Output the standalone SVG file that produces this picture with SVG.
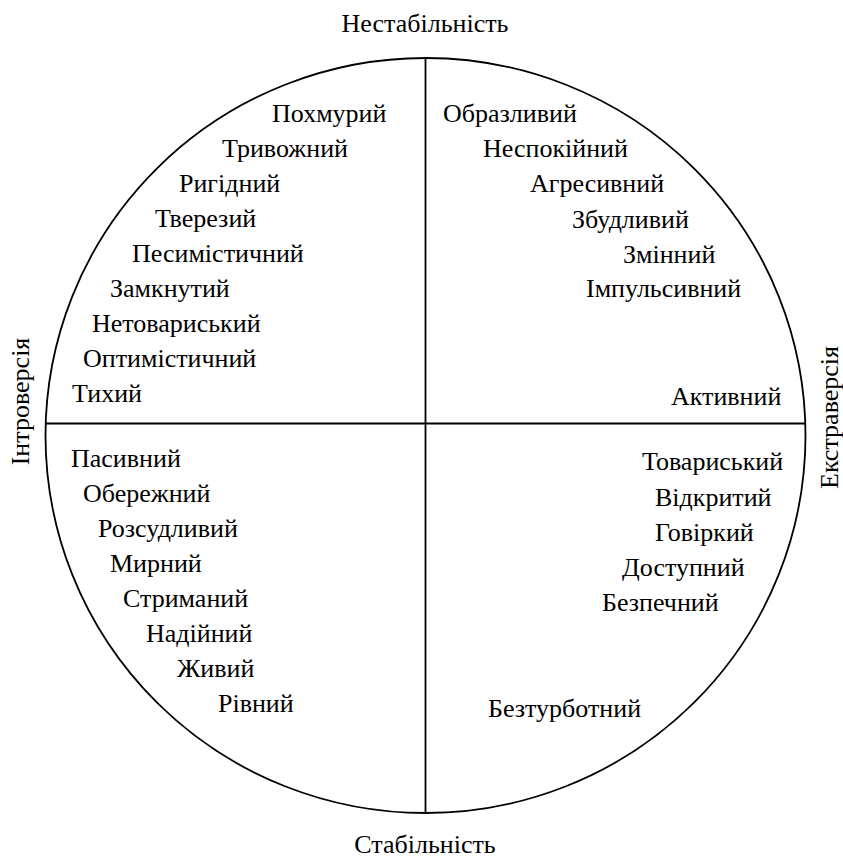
<svg xmlns="http://www.w3.org/2000/svg" width="843" height="858" viewBox="0 0 843 858">
<style>
.t text{font-family:"Liberation Serif","DejaVu Serif",serif;font-size:26px;fill:#000}
.ln{stroke:#000;stroke-width:1.8;fill:none}
</style>
<rect width="843" height="858" fill="#fff"/>
<g id="frame">
<ellipse class="ln" cx="425.5" cy="435.5" rx="380" ry="377.5" stroke-width="2.2"/>
</g>
<g id="connectors">
<line class="ln" x1="425.5" y1="58" x2="425.5" y2="813"/>
<line class="ln" x1="45" y1="423.5" x2="806" y2="423.5"/>
</g>
<g class="t">
<g id="axes">
<text x="425" y="32" text-anchor="middle">Нестабільність</text>
<text x="425" y="853" text-anchor="middle">Стабільність</text>
<text transform="translate(29,401.5) rotate(-90)" text-anchor="middle">Інтроверсія</text>
<text transform="translate(838,417.5) rotate(-90)" text-anchor="middle">Екстраверсія</text>
</g>
<g id="q1">
<text x="272" y="122">Похмурий</text>
<text x="222" y="157">Тривожний</text>
<text x="179" y="192">Ригідний</text>
<text x="155" y="227">Тверезий</text>
<text x="132" y="262">Песимістичний</text>
<text x="110" y="297">Замкнутий</text>
<text x="92" y="332">Нетовариський</text>
<text x="83" y="367">Оптимістичний</text>
<text x="72" y="402">Тихий</text>
</g>
<g id="q2">
<text x="443" y="122">Образливий</text>
<text x="483" y="157">Неспокійний</text>
<text x="530" y="192">Агресивний</text>
<text x="572" y="228">Збудливий</text>
<text x="623" y="263">Змінний</text>
<text x="586" y="297">Імпульсивний</text>
<text x="671" y="405">Активний</text>
</g>
<g id="q3">
<text x="71" y="467">Пасивний</text>
<text x="83" y="502">Обережний</text>
<text x="98" y="537">Розсудливий</text>
<text x="110" y="572">Мирний</text>
<text x="123" y="607">Стриманий</text>
<text x="146" y="642">Надійний</text>
<text x="177" y="677">Живий</text>
<text x="218" y="712">Рівний</text>
</g>
<g id="q4">
<text x="642" y="470">Товариський</text>
<text x="655" y="506">Відкритий</text>
<text x="655" y="541">Говіркий</text>
<text x="622" y="576">Доступний</text>
<text x="602" y="611">Безпечний</text>
<text x="488" y="717">Безтурботний</text>
</g>
</g>
</svg>
